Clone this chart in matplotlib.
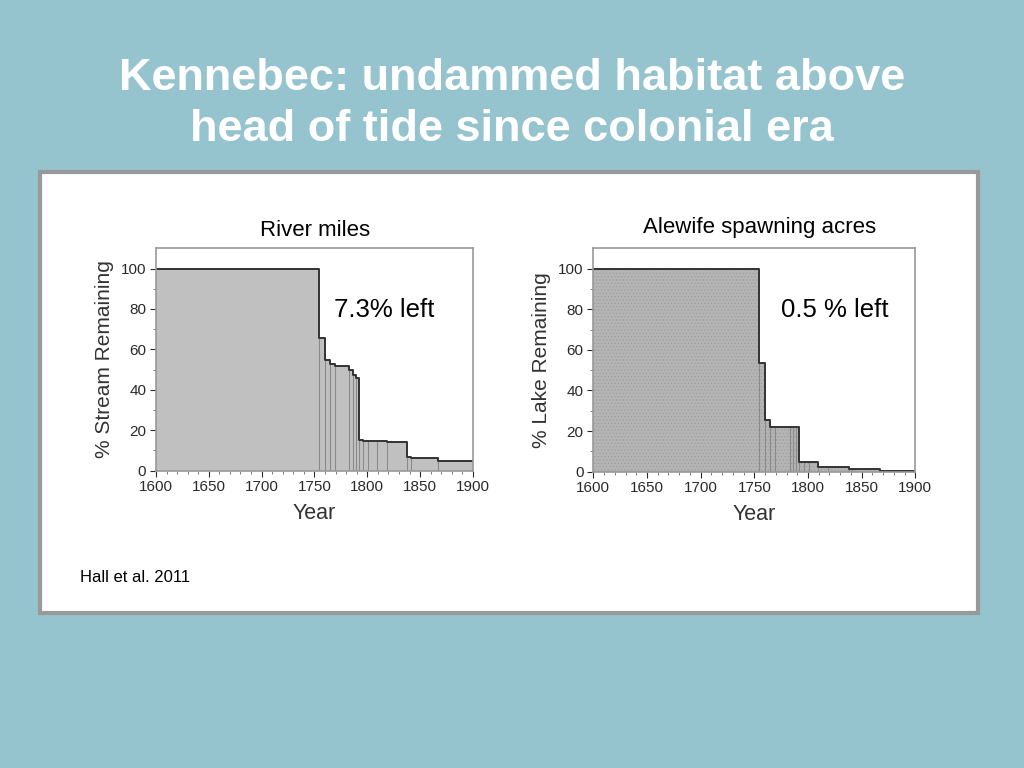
import numpy as np
import matplotlib
matplotlib.use("Agg")
import matplotlib.pyplot as plt
from matplotlib.patches import Rectangle

plt.rcParams['font.family'] = ['Liberation Sans', 'DejaVu Sans']

# dam years (step points) and % habitat remaining after each
dam_years = [1754, 1760, 1765, 1769, 1783, 1786, 1789, 1792, 1796, 1801, 1809, 1819, 1838, 1841, 1867]
stream_left = [65.5, 55, 53, 52, 50, 47.5, 46, 15, 14.7, 14.6, 14.5, 14.3, 7, 6.5, 5]
lake_left = [53.5, 25.5, 22, 22, 22, 22, 22, 4.8, 4.8, 4.8, 2.3, 2.2, 1.3, 1.2, 0.5]

title = "Kennebec: undammed habitat above\nhead of tide since colonial era"
bg = '#96c4ce'

fig = plt.figure(figsize=(10.24, 7.68), dpi=100)
fig.patch.set_facecolor(bg)

fig.text(0.5, 1 - 104 / 768, title, ha='center', va='center', color='white',
         fontsize=32.5, fontweight='bold', linespacing=1.32)

# white panel
panel = Rectangle((40 / 1024, 1 - 613 / 768), 938 / 1024, 441 / 768, transform=fig.transFigure,
                  facecolor='white', edgecolor='#999999', linewidth=3, zorder=-5)
fig.patches.append(panel)


def draw(ax, vals, ylabel, hatch=None, face='#c0c0c0'):
    xs = [1600] + dam_years + [1900]
    ys = [100] + vals + [vals[-1]]
    ax.fill_between(xs, ys, step='post', facecolor=face, edgecolor='#9a9a9a' if hatch else 'none',
                    hatch=hatch, linewidth=0)
    for yr, v in zip(dam_years, vals):
        ax.vlines(yr, 0, v, color='#8a8a8a', linewidth=0.8)
    ax.step(xs, ys, where='post', color='#333333', linewidth=1.4)
    ax.set_xlim(1600, 1900)
    ax.set_ylim(0, 110)
    ax.set_xticks(range(1600, 1901, 50))
    ax.set_xticks(range(1600, 1901, 10), minor=True)
    ax.set_yticks(range(0, 101, 20))
    ax.set_yticks(range(0, 101, 10), minor=True)
    ax.tick_params(labelsize=11, colors='#2a2a2a', length=4, width=0.8, pad=3)
    ax.tick_params(which='minor', length=2, width=0.6, colors='#666666')
    for s in ax.spines.values():
        s.set_color('#999999')
        s.set_linewidth(1.2)
    ax.set_xlabel('Year', fontsize=15.5, color='#333333', labelpad=6)
    ax.set_ylabel(ylabel, fontsize=15, color='#333333', labelpad=5)


ax1 = fig.add_axes([0.1523, 0.3871, 0.3096, 0.2896])
draw(ax1, stream_left, '% Stream Remaining')

plt.rcParams['hatch.linewidth'] = 0.4
ax2 = fig.add_axes([0.5794, 0.3858, 0.3145, 0.2909])
draw(ax2, lake_left, '% Lake Remaining', hatch='.....', face='#b4b4b4')

fig.text(315 / 1024, 1 - 231 / 768, 'River miles', ha='center', va='center', fontsize=16)
fig.text(760 / 1024, 1 - 228 / 768, 'Alewife spawning acres', ha='center', va='center', fontsize=16)
fig.text(384 / 1024, 1 - 310 / 768, '7.3% left', ha='center', va='center', fontsize=18.5)
fig.text(835 / 1024, 1 - 310 / 768, '0.5 % left', ha='center', va='center', fontsize=18.5)
fig.text(80 / 1024, 1 - 577 / 768, 'Hall et al. 2011', ha='left', va='center', fontsize=12)

fig.savefig('out.png', dpi=100, facecolor=bg)
